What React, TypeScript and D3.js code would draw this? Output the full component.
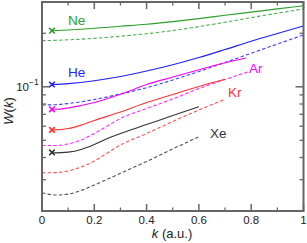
import React from "react";
import * as d3 from "d3";

const neSolidK = [0.038, 0.1, 0.2, 0.3, 0.4, 0.5, 0.6, 0.7, 0.8, 0.9, 1.0];
const neSolidW = [0.2068, 0.2087, 0.2134, 0.219, 0.2247, 0.2327, 0.2419, 0.2525, 0.2632, 0.2744, 0.286];
const neDashK = [0, 0.1, 0.2, 0.3, 0.4, 0.5, 0.6, 0.7, 0.8, 0.9, 1.0];
const neDashW = [0.1817, 0.1838, 0.1874, 0.1926, 0.1989, 0.2073, 0.2181, 0.2309, 0.245, 0.2595, 0.274];

const heSolidK = [0.038, 0.1, 0.2, 0.3, 0.4, 0.5, 0.6, 0.7, 0.8, 0.9, 1.0];
const heSolidW = [0.103, 0.1042, 0.1081, 0.1142, 0.1227, 0.1331, 0.1461, 0.1621, 0.1805, 0.1994, 0.2198];
const heDashK = [0, 0.05, 0.1, 0.2, 0.3, 0.4, 0.5, 0.6, 0.7, 0.8, 0.9, 1.0];
const heDashW = [0.079, 0.0793, 0.0805, 0.0848, 0.0911, 0.0988, 0.1092, 0.1219, 0.137, 0.1545, 0.174, 0.1957];

const arSolidK = [0.038, 0.05, 0.1, 0.15, 0.2, 0.3, 0.4, 0.5, 0.6, 0.7, 0.78];
const arSolidW = [0.0747, 0.0747, 0.076, 0.0785, 0.0815, 0.0907, 0.1029, 0.1135, 0.1248, 0.1364, 0.1452];
const arDashK = [0, 0.05, 0.1, 0.15, 0.2, 0.25, 0.3, 0.4, 0.5, 0.6, 0.7, 0.79];
const arDashW = [0.0467, 0.0467, 0.0477, 0.0502, 0.0546, 0.0602, 0.0663, 0.0755, 0.0854, 0.0978, 0.1099, 0.1216];

const krSolidK = [0.038, 0.05, 0.1, 0.15, 0.2, 0.3, 0.4, 0.5, 0.6, 0.7];
const krSolidW = [0.0572, 0.0572, 0.0582, 0.0609, 0.0646, 0.0721, 0.0815, 0.0905, 0.1004, 0.1102];
const krDashK = [0, 0.05, 0.1, 0.15, 0.2, 0.25, 0.3, 0.4, 0.5, 0.6, 0.7];
const krDashW = [0.0328, 0.0329, 0.0336, 0.0354, 0.0382, 0.0424, 0.047, 0.0546, 0.0638, 0.074, 0.0851];

const xeSolidK = [0.038, 0.05, 0.1, 0.15, 0.2, 0.25, 0.3, 0.4, 0.5, 0.6];
const xeSolidW = [0.0427, 0.0425, 0.0429, 0.0444, 0.0473, 0.0512, 0.0546, 0.0613, 0.0689, 0.0773];
const xeDashK = [0, 0.05, 0.1, 0.15, 0.2, 0.3, 0.4, 0.5, 0.6];
const xeDashW = [0.02535, 0.0246, 0.0249, 0.0261, 0.028, 0.0326, 0.038, 0.0447, 0.0524];

const xMajorTicks = [0, 0.2, 0.4, 0.6, 0.8, 1];
const xTickLabels = ["0", "0.2", "0.4", "0.6", "0.8", "1"];
const xMinorTicks = [0.1, 0.3, 0.5, 0.7, 0.9];
const yMajorTicks = [0.1];
const yMinorTicks = [0.03, 0.04, 0.05, 0.06, 0.07, 0.08, 0.09, 0.2];
const markerK = 0.038;

type Series = {
  name: string;
  color: string;
  sk: number[];
  sw: number[];
  dk: number[];
  dw: number[];
  lx: number;
  ly: number;
};

const series: Series[] = [
  { name: "Ne", color: "#2ca02c", sk: neSolidK, sw: neSolidW, dk: neDashK, dw: neDashW, lx: 68, ly: 25 },
  { name: "He", color: "#1f1fff", sk: heSolidK, sw: heSolidW, dk: heDashK, dw: heDashW, lx: 68, ly: 77 },
  { name: "Ar", color: "#ff00ff", sk: arSolidK, sw: arSolidW, dk: arDashK, dw: arDashW, lx: 249, ly: 73 },
  { name: "Kr", color: "#ff3333", sk: krSolidK, sw: krSolidW, dk: krDashK, dw: krDashW, lx: 228, ly: 97 },
  { name: "Xe", color: "#333333", sk: xeSolidK, sw: xeSolidW, dk: xeDashK, dw: xeDashW, lx: 210, ly: 138 },
];

const L = 42, R = 303.5, T = 2, B = 211;

export default function App() {
  const x = d3.scaleLinear().domain([0, 1]).range([L, R]);
  const y = d3.scaleLog().domain([0.02, 0.3]).range([B, T]);
  const line = d3
    .line<[number, number]>()
    .x((d) => x(d[0]))
    .y((d) => y(d[1]))
    .curve(d3.curveMonotoneX);
  const mk = (ks: number[], ws: number[]) => line(ks.map((k, i) => [k, ws[i]] as [number, number])) || "";
  const font = "'Liberation Sans', Arial, Helvetica, sans-serif";
  const axisColor = "#666";

  return (
    <svg width={307} height={243} style={{ position: "absolute", left: 0, top: 0, background: "#fff" }} fontFamily={font}>
      {series.map((s) => (
        <g key={s.name}>
          <path d={mk(s.dk, s.dw)} fill="none" stroke={s.color} strokeWidth={1.1} strokeDasharray="3.5,2.2" opacity={0.85} />
          <path d={mk(s.sk, s.sw)} fill="none" stroke={s.color} strokeWidth={1.1} />
          <path
            d={d3.symbol(d3.symbolTimes, 22)() || ""}
            transform={`translate(${x(markerK)},${y(s.sw[0])})`}
            fill="none"
            stroke={s.color}
            strokeWidth={1.6}
          />
          <text x={s.lx} y={s.ly} fill={s.color} fontSize={13.5}>
            {s.name}
          </text>
        </g>
      ))}
      <rect x={L} y={T} width={R - L} height={B - T} fill="none" stroke={axisColor} strokeWidth={2} />
      {xMajorTicks.map((t, i) => (
        <g key={"xm" + t}>
          <line x1={x(t)} x2={x(t)} y1={B} y2={B - 7} stroke={axisColor} strokeWidth={1.5} />
          <line x1={x(t)} x2={x(t)} y1={T} y2={T + 7} stroke={axisColor} strokeWidth={1.5} />
          <text x={x(t)} y={224} textAnchor="middle" fontSize={11.5} fill="#222">
            {xTickLabels[i]}
          </text>
        </g>
      ))}
      {xMinorTicks.map((t) => (
        <g key={"xn" + t}>
          <line x1={x(t)} x2={x(t)} y1={B} y2={B - 3.5} stroke={axisColor} strokeWidth={1.3} />
          <line x1={x(t)} x2={x(t)} y1={T} y2={T + 3.5} stroke={axisColor} strokeWidth={1.3} />
        </g>
      ))}
      {yMajorTicks.map((t) => (
        <g key={"ym" + t}>
          <line x1={L} x2={L + 8} y1={y(t)} y2={y(t)} stroke={axisColor} strokeWidth={1.5} />
          <line x1={R} x2={R - 8} y1={y(t)} y2={y(t)} stroke={axisColor} strokeWidth={1.5} />
          <text x={29} y={y(t) + 4} textAnchor="end" fontSize={11.5} fill="#222">
            10
          </text>
          <text x={29} y={y(t) - 2} fontSize={8.5} fill="#222">
            −1
          </text>
        </g>
      ))}
      {yMinorTicks.map((t) => (
        <g key={"yn" + t}>
          <line x1={L} x2={L + 4} y1={y(t)} y2={y(t)} stroke={axisColor} strokeWidth={1.3} />
          <line x1={R} x2={R - 4} y1={y(t)} y2={y(t)} stroke={axisColor} strokeWidth={1.3} />
        </g>
      ))}
      <text transform={`translate(13,111) rotate(-90)`} textAnchor="middle" fontSize={13} fill="#222">
        <tspan fontStyle="italic">W</tspan>(<tspan fontStyle="italic">k</tspan>)
      </text>
      <text x={172} y={238} textAnchor="middle" fontSize={13} fill="#222">
        <tspan fontStyle="italic">k</tspan> (a.u.)
      </text>
    </svg>
  );
}
